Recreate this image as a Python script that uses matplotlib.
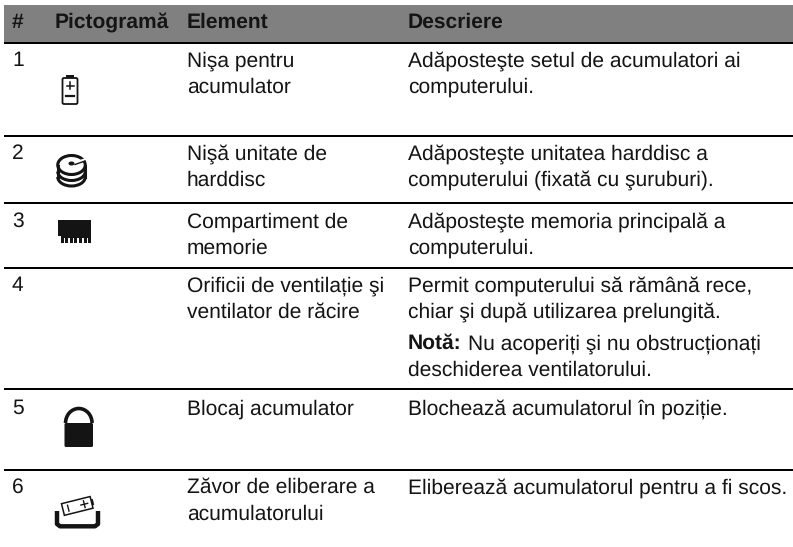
import matplotlib
matplotlib.use("Agg")
import matplotlib.pyplot as plt
from matplotlib.patches import Rectangle, FancyBboxPatch, Ellipse, Arc
from matplotlib.transforms import Affine2D

W, H = 793, 547
INK = "#141414"
FS = 15.3

headers = ["#", "Pictogramă", "Element", "Descriere"]
numbers = ["1", "2", "3", "4", "5", "6"]
elements = [
    ["Nişa pentru", "acumulator"],
    ["Nişă unitate de", "harddisc"],
    ["Compartiment de", "memorie"],
    ["Orificii de ventilație şi", "ventilator de răcire"],
    ["Blocaj acumulator"],
    ["Zăvor de eliberare a", "acumulatorului"],
]
descriptions = [
    ["Adăposteşte setul de acumulatori ai", "computerului."],
    ["Adăposteşte unitatea harddisc a", "computerului (fixată cu şuruburi)."],
    ["Adăposteşte memoria principală a", "computerului."],
    ["Permit computerului să rămână rece,", "chiar şi după utilizarea prelungită."],
    ["Blochează acumulatorul în poziție."],
    ["Eliberează acumulatorul pentru a fi scos."],
]
note_bold = "Notă:"
note_lines = ["Nu acoperiți şi nu obstrucționați", "deschiderea ventilatorului."]

# layout (pixels)
row_baseline = [66.2, 159.2, 227.2, 291.2, 414.2, 493.2]
rules = [42.7, 136, 203.3, 267.8, 389.3, 470]
header_cols = [12, 55, 187, 408]
line_gap = 26.2

plt.rcParams["font.family"] = ["Liberation Sans", "DejaVu Sans"]
plt.rcParams["text.hinting"] = "no_hinting"
plt.rcParams["text.hinting_factor"] = 1
fig = plt.figure(figsize=(W / 100, H / 100), dpi=100)
ax = fig.add_axes([0, 0, 1, 1])
ax.set_xlim(0, W)
ax.set_ylim(H, 0)
ax.axis("off")

ax.add_patch(Rectangle((4, 5), W - 4, 37, fc="#808080", ec="none"))
for y in rules:
    ax.plot([4, W], [y, y], color="black", lw=1.44, solid_capstyle="butt")


def put(x, y, s, **kw):
    ax.text(x, y, s, fontsize=FS, color=INK, va="baseline", ha="left", **kw)


for x, h in zip(header_cols, headers):
    put(x, 28, h, fontweight="bold")
for n, els, des, y in zip(numbers, elements, descriptions, row_baseline):
    put(12, y, n)
    for k, s in enumerate(els):
        put(187, y + k * line_gap, s)
    for k, s in enumerate(des):
        put(408, y + k * line_gap, s)
put(408, 349.2, note_bold, fontweight="bold")
put(468, 349.2, note_lines[0])
put(408, 375.4, note_lines[1])

# icon: battery
ax.add_patch(FancyBboxPatch((62.5, 78), 15, 26, boxstyle="round,pad=0,rounding_size=1.5",
                            fc="white", ec=INK, lw=1.3))
ax.add_patch(Rectangle((66, 74.5), 7.5, 3, fc=INK, ec="none"))
ax.plot([66.5, 73.5], [85.5, 85.5], color=INK, lw=1.1)
ax.plot([70, 70], [82, 89], color=INK, lw=1.1)
ax.plot([66, 74], [96, 96], color=INK, lw=1.6)

# icon: disk stack
for dy in (11, 5.5):
    ax.add_patch(Arc((71.5, 166 + dy), 27.5, 18, theta1=0, theta2=180, color=INK, lw=2.2))
ax.plot([57.8, 57.8], [166, 177], color=INK, lw=2.2)
ax.plot([85.2, 85.2], [166, 177], color=INK, lw=2.2)
ax.add_patch(Ellipse((71.5, 165), 27.5, 19, fc="white", ec=INK, lw=2.2))
ax.add_patch(Ellipse((71.5, 163.5), 6, 4, fc=INK, ec="none"))
ax.plot([76, 86], [162.5, 159], color="white", lw=1.6)
ax.plot([75, 85], [164.5, 161], color=INK, lw=1.0)

# icon: memory module
ax.add_patch(Rectangle((58, 220), 33, 16, fc=INK, ec="none"))
ax.add_patch(Rectangle((61, 236), 30, 7, fc=INK, ec="none"))
for i in range(6):
    ax.add_patch(Rectangle((63.5 + i * 4.6, 238), 1.7, 5.2, fc="white", ec="none"))

# icon: padlock
ax.add_patch(FancyBboxPatch((64.5, 423), 28.5, 24, boxstyle="round,pad=0,rounding_size=1.5",
                            fc=INK, ec="none"))
ax.add_patch(Arc((78.8, 423), 26.5, 29, theta1=180, theta2=360, color=INK, lw=2.6))

# icon: tray with tilted battery
ax.plot([57, 57, 60, 95, 98, 98], [511, 524, 526.3, 526.3, 524, 511], color=INK, lw=3.2,
        solid_joinstyle="round", solid_capstyle="butt")
rot = Affine2D().rotate_deg_around(77, 506, -14) + ax.transData
ax.add_patch(Rectangle((62.5, 500), 29.5, 12, fc="white", ec=INK, lw=1.1, transform=rot))
ax.add_patch(Rectangle((92, 503), 2, 6, fc=INK, ec="none", transform=rot))
ax.plot([68, 68], [503, 509], color=INK, lw=1, transform=rot)
ax.plot([81, 88], [506, 506], color=INK, lw=1, transform=rot)
ax.plot([84.5, 84.5], [502.5, 509.5], color=INK, lw=1, transform=rot)

fig.savefig("out.png", dpi=100, facecolor="white")
